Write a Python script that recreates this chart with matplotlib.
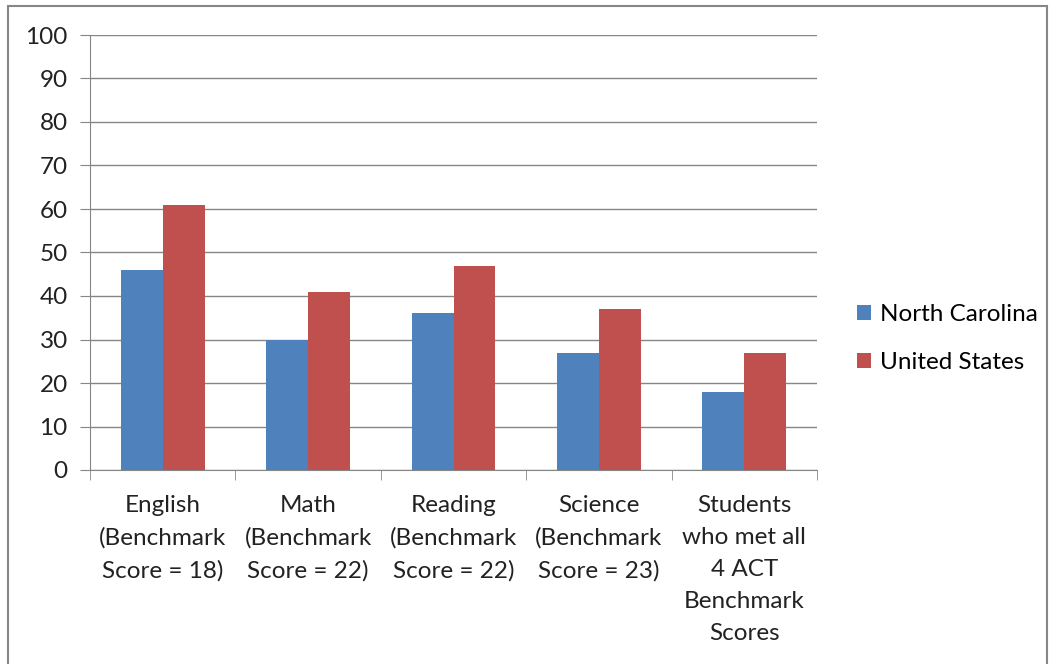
import matplotlib.pyplot as plt
import matplotlib.patches as patches
import numpy as np

plt.rcParams['font.family'] = ['Lato', 'DejaVu Sans']

categories = ["English\n(Benchmark\nScore = 18)",
              "Math\n(Benchmark\nScore = 22)",
              "Reading\n(Benchmark\nScore = 22)",
              "Science\n(Benchmark\nScore = 23)",
              "Students\nwho met all\n4 ACT\nBenchmark\nScores"]
north_carolina = [46, 30, 36, 27, 18]
united_states = [61, 41, 47, 37, 27]
yticks = list(range(0, 101, 10))

grey = '#868686'
fs = 17.5

fig = plt.figure(figsize=(10.5, 6.64), dpi=100)
ax = fig.add_axes([90/1050, 1 - 470/664, (817 - 90)/1050, (470 - 35)/664])

x = np.arange(len(categories))
w = 0.288
ax.bar(x - w/2, north_carolina, w, color='#4F81BD', label='North Carolina', zorder=3)
ax.bar(x + w/2, united_states, w, color='#C0504D', label='United States', zorder=3)

ax.set_xlim(-0.5, len(categories) - 0.5)
ax.set_ylim(0, 100)
ax.set_yticks(yticks)
ax.yaxis.grid(True, color=grey, linewidth=1, zorder=0)

for s in ['top', 'right']:
    ax.spines[s].set_visible(False)
for s in ['left', 'bottom']:
    ax.spines[s].set_color(grey)
    ax.spines[s].set_zorder(4)

ax.tick_params(axis='y', length=7, color=grey, labelsize=fs, pad=9, labelcolor='#222222')
ax.set_xticks(x)
ax.set_xticklabels(categories, fontsize=fs, color='#222222', linespacing=1.65)
ax.set_xticks(np.arange(-0.5, len(categories)), minor=True)
ax.tick_params(axis='x', which='major', length=0, pad=18)
ax.tick_params(axis='x', which='minor', length=7, color=grey)

ax.legend(loc='center left', bbox_to_anchor=(1.041, 0.302), frameon=False,
          fontsize=fs, handlelength=0.6, handleheight=0.6, labelspacing=1.1,
          handletextpad=0.35, borderaxespad=0)

# outer chart border
fig.patches.append(patches.Rectangle((8/1050, -0.02), (1047 - 8)/1050, 1.02 - 6/664,
                                     transform=fig.transFigure, fill=False,
                                     edgecolor=grey, linewidth=1.5))

fig.savefig('out.png', dpi=100)
